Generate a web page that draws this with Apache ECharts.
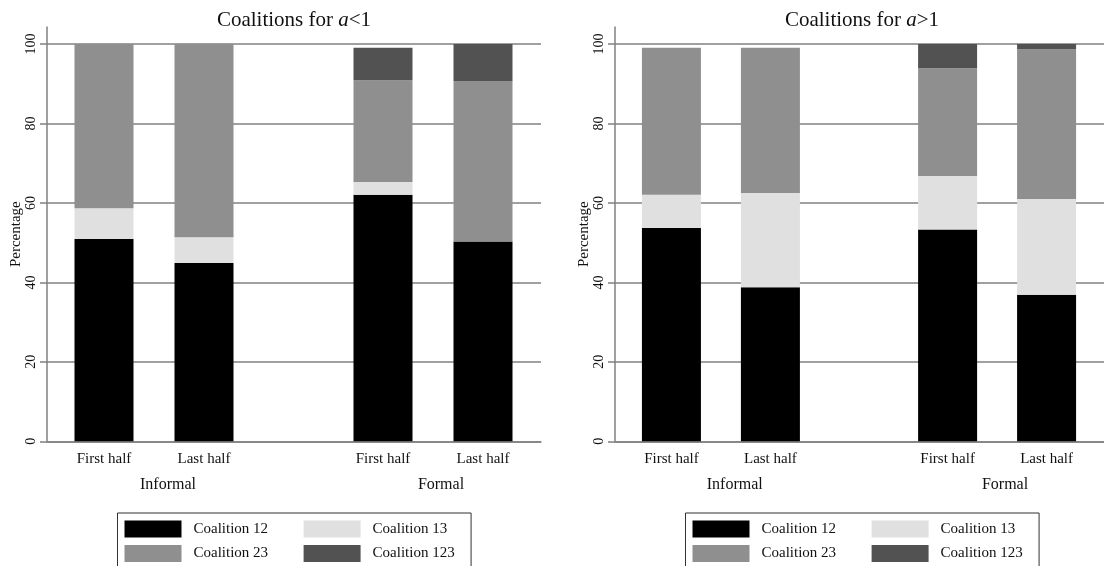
<!DOCTYPE html>
<html><head><meta charset="utf-8">
<script src="https://cdn.jsdelivr.net/npm/echarts@6/dist/echarts.min.js"></script>
<style>html,body{margin:0;padding:0;background:#fff}#c{width:1104px;height:566px}</style>
</head><body><div id="c"></div>
<script>
// ---- data ----
const periods = ['First half', 'Last half', 'First half', 'Last half'];
const settings = ['Informal', 'Formal'];
const seriesNames = ['Coalition 12', 'Coalition 13', 'Coalition 23', 'Coalition 123'];
const titleParts = [['Coalitions for ', 'a', '<1'], ['Coalitions for ', 'a', '>1']];
const yTicks = [0, 20, 40, 60, 80, 100];
// a<1 panel
const lowC12 = [50.9, 44.9, 62.1, 50.3];
const lowC13 = [7.8, 6.5, 3.2, 0];
const lowC23 = [41.3, 48.6, 25.6, 40.4];
const lowC123 = [0, 0, 8.2, 9.3];
// a>1 panel
const highC12 = [53.7, 38.8, 53.3, 36.9];
const highC13 = [8.4, 23.7, 13.5, 24.1];
const highC23 = [37.0, 36.6, 27.1, 37.7];
const highC123 = [0, 0, 6.1, 1.3];

// ---- styling / layout ----
const FONT = 'Liberation Serif';
const TXT = '#111';
const GRIDC = '#808080';
const colors = ['#000000', '#e0e0e0', '#8f8f8f', '#525252'];
const groupStep = 2.79;          // distance between groups (in-group spacing = 1)
const labelShift = [0.14, 0.08]; // nudge of group labels
const barX = periods.map((p, i) => Math.floor(i / 2) * groupStep + (i % 2));
const groupX = settings.map((s, g) => g * groupStep + 0.5 + labelShift[g]);
const panels = [
  { data: [lowC12, lowC13, lowC23, lowC123], left: 47 },
  { data: [highC12, highC13, highC23, highC123], left: 615 }
];
const PW = 494;

const option = { backgroundColor: '#fff', animation: false,
  title: [], grid: [], xAxis: [], yAxis: [], series: [], legend: [] };

const legendCommon = {
  orient: 'horizontal', width: 150, itemGap: 7.5, itemWidth: 57, itemHeight: 17,
  icon: 'rect', selectedMode: false,
  textStyle: { fontFamily: FONT, fontSize: 15, color: TXT, padding: [0, 0, 0, 7] }
};

panels.forEach((p, k) => {
  const tp = titleParts[k];
  option.title.push({
    text: '{n|' + tp[0] + '}{i|' + tp[1] + '}{n|' + tp[2] + '}',
    left: p.left + PW / 2, top: 10, textAlign: 'center', padding: 0,
    textStyle: { fontWeight: 'normal', rich: {
      n: { fontFamily: FONT, fontSize: 21, fontWeight: 'normal', color: TXT },
      i: { fontFamily: FONT, fontSize: 21, fontWeight: 'normal', fontStyle: 'italic', color: TXT }
    } }
  });
  option.grid.push({ left: p.left, top: 27, width: PW, height: 414.3 });
  option.xAxis.push({
    type: 'value', gridIndex: k, min: -0.57, max: 4.37,
    axisLine: { show: true, onZero: false, lineStyle: { color: GRIDC, width: 1.5 } },
    axisTick: { show: false }, splitLine: { show: false },
    axisLabel: { customValues: barX, margin: 10, fontFamily: FONT, fontSize: 15, color: TXT,
      formatter: v => { const i = barX.findIndex(x => Math.abs(x - v) < 1e-6); return i < 0 ? '' : periods[i]; } }
  });
  option.xAxis.push({
    type: 'value', gridIndex: k, min: -0.57, max: 4.37, position: 'bottom', offset: 26,
    axisLine: { show: false, onZero: false }, axisTick: { show: false }, splitLine: { show: false },
    axisLabel: { customValues: groupX, margin: 9, fontFamily: FONT, fontSize: 16, color: TXT,
      formatter: v => { const i = groupX.findIndex(x => Math.abs(x - v) < 1e-6); return i < 0 ? '' : settings[i]; } }
  });
  option.yAxis.push({
    type: 'value', gridIndex: k, min: 0, max: 104.3,
    name: 'Percentage', nameLocation: 'middle', nameGap: 17,
    nameTextStyle: { fontFamily: FONT, fontSize: 15, color: TXT },
    axisLine: { show: true, onZero: false, lineStyle: { color: GRIDC, width: 1.5 } },
    axisTick: { show: true, length: 7, customValues: yTicks, lineStyle: { color: GRIDC, width: 1.5 } },
    axisLabel: { customValues: yTicks, rotate: 90, margin: 9, fontFamily: FONT, fontSize: 14, color: TXT },
    splitLine: { show: true, lineStyle: { color: GRIDC, width: 1.5 } }
  });
  p.data.forEach((vals, s) => {
    option.series.push({
      type: 'bar', name: seriesNames[s], stack: 'panel' + k,
      xAxisIndex: 2 * k, yAxisIndex: k, barWidth: 59,
      itemStyle: { color: colors[s] },
      encode: { x: 1, y: 0 },
      data: vals.map((v, i) => [v, barX[i]])
    });
  });
  // legend: first column carries the surrounding box, second column sits inside it
  option.legend.push(Object.assign({}, legendCommon, {
    left: p.left + 70.5, top: 513,
    padding: [7.5, 203, 7.5, 7], borderColor: '#333', borderWidth: 1,
    data: seriesNames.filter((n, i) => i % 2 === 0)
  }));
  option.legend.push(Object.assign({}, legendCommon, {
    left: p.left + 256.6, top: 520.5, padding: 0,
    data: seriesNames.filter((n, i) => i % 2 === 1)
  }));
});

const chart = echarts.init(document.getElementById('c'), null, { renderer: 'canvas' });
chart.setOption(option);
</script>
</body></html>
